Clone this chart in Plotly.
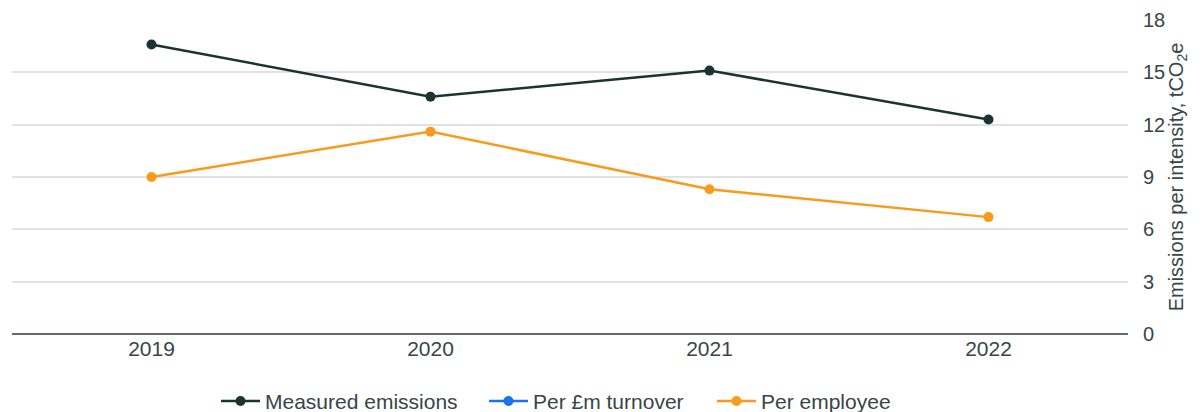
import plotly.graph_objects as go

years = ["2019", "2020", "2021", "2022"]
measured = [16.6, 13.6, 15.1, 12.3]
per_turnover = [None, None, None, None]
per_employee = [9.0, 11.6, 8.3, 6.7]
y_ticks = [0, 3, 6, 9, 12, 15, 18]

font = "Liberation Sans, Arial, sans-serif"
txt = "#384548"

fig = go.Figure()
series = [
    ("Measured emissions", measured, "#1b3333", "legend", 216),
    ("Per £m turnover", per_turnover, "#1a73e8", "legend2", 484),
    ("Per employee", per_employee, "#f89a1c", "legend3", 712),
]
legends = {}
for name, vals, col, leg, px in series:
    fig.add_trace(go.Scatter(
        x=years, y=vals, name=name, mode="lines+markers",
        line=dict(color=col, width=2.5),
        marker=dict(color=col, size=10),
        legend=leg,
    ))
    legends[leg] = dict(orientation="h", x=(px - 12) / 1116, xanchor="left",
                        y=-0.149, yanchor="top", bgcolor="rgba(0,0,0,0)",
                        font=dict(size=21, color=txt), itemwidth=39)

fig.update_layout(
    width=1194, height=404,
    margin=dict(l=4, r=74, t=12, b=78, autoexpand=False),
    paper_bgcolor="white", plot_bgcolor="white",
    font=dict(family=font, size=20, color=txt),
    showlegend=True,
    xaxis=dict(type="category", range=[-0.5, 3.5], showgrid=False, automargin=False,
               showline=False, ticks="", tickfont=dict(size=21, color=txt)),
    yaxis=dict(side="right", range=[0, 18], tickvals=y_ticks, automargin=False,
               gridcolor="#e2e2e2", gridwidth=1.5,
               zeroline=True, zerolinecolor="#5f6b6d", zerolinewidth=2,
               tickfont=dict(size=20, color=txt), ticks="", ticklabelstandoff=14,
               title=dict(text="Emissions per intensity, tCO<sub>2</sub>e",
                          font=dict(size=20, color=txt), standoff=4)),
    **legends,
)

fig.write_html("out.html")
